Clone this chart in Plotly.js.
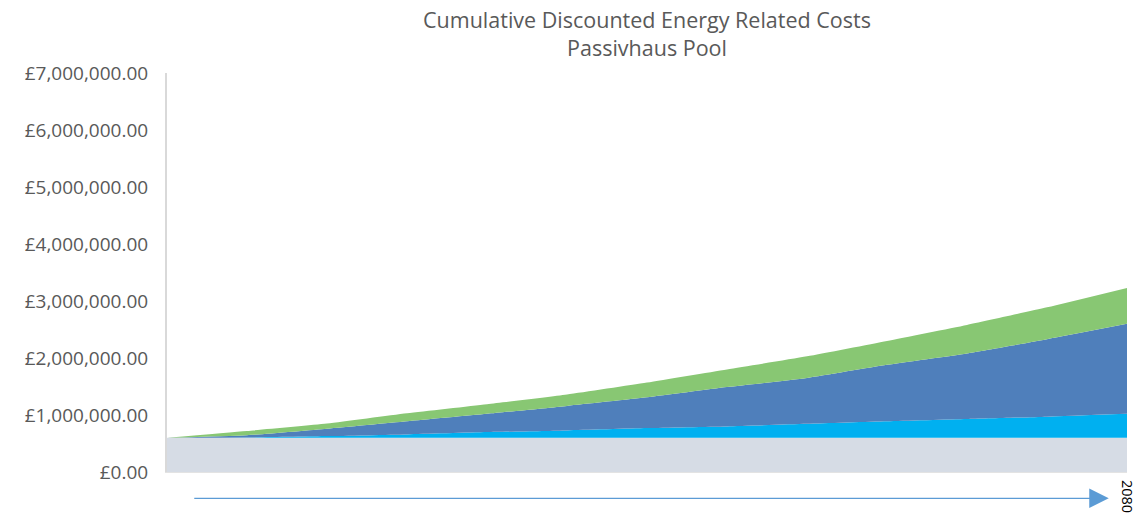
<!DOCTYPE html>
<html>
<head>
<meta charset="utf-8">
<script src="https://cdn.plot.ly/plotly-3.0.1.min.js"></script>
<style>
  html, body { margin: 0; padding: 0; background: #ffffff; }
  #chart { width: 1148px; height: 516px; }
</style>
</head>
<body>
<div id="chart"></div>
<script>
// Years of the appraisal period (one point every five years)
const years = [2020, 2025, 2030, 2035, 2040, 2045, 2050, 2055, 2060, 2065, 2070, 2075, 2080];

// Stacked cost components, in pounds (each layer sits on the one below)
const baseCost        = [600000, 600000, 600000, 600000, 600000, 600000, 600000, 600000, 600000, 600000, 600000, 600000, 600000];
const lightBlueCost   = [0, 5000, 30000, 60000, 100000, 130000, 170000, 200000, 245000, 290000, 330000, 370000, 420000];
const darkBlueCost    = [0, 40000, 130000, 230000, 320000, 430000, 540000, 690000, 805000, 990000, 1150000, 1360000, 1580000];
const greenCost       = [0, 75000, 90000, 140000, 170000, 200000, 260000, 310000, 380000, 420000, 500000, 560000, 630000];

// Axis ticks
const yTickValues = [0, 1000000, 2000000, 3000000, 4000000, 5000000, 6000000, 7000000];
const yTickLabels = yTickValues.map(v =>
  "\u00a3" + v.toLocaleString("en-GB", { minimumFractionDigits: 2, maximumFractionDigits: 2 }));
const xTickValues = [2080];
const xTickLabels = ["2080"];

const layers = [
  { name: "Base", values: baseCost, color: "#d6dce5" },
  { name: "Component A", values: lightBlueCost, color: "#00b0f0" },
  { name: "Component B", values: darkBlueCost, color: "#4f7fbb" },
  { name: "Component C", values: greenCost, color: "#88c773" }
];

const traces = layers.map(l => ({
  type: "scatter",
  mode: "lines",
  x: years,
  y: l.values,
  name: l.name,
  stackgroup: "costs",
  line: { width: 0, color: l.color, shape: "spline", smoothing: 0.5 },
  fillcolor: l.color,
  hoverinfo: "skip"
}));

const fontFamily = "Open Sans, Noto Sans, sans-serif";

const layout = {
  width: 1148,
  height: 516,
  margin: { l: 167, r: 21, t: 73, b: 43.5, pad: 0 },
  paper_bgcolor: "#ffffff",
  plot_bgcolor: "#ffffff",
  showlegend: false,
  title: {
    text: "Cumulative Discounted Energy Related Costs<br>Passivhaus Pool",
    font: { family: fontFamily, size: 21.5, color: "#595959" },
    x: 0.5,
    xref: "paper",
    y: 0.945,
    yref: "container",
    yanchor: "top"
  },
  xaxis: {
    range: [2020, 2080],
    tickmode: "array",
    tickvals: xTickValues,
    ticktext: xTickLabels,
    tickangle: 90,
    ticks: "",
    ticklabelstandoff: 4,
    showgrid: false,
    zeroline: false,
    showline: true,
    linecolor: "#e3e3e3",
    linewidth: 1,
    tickfont: { family: fontFamily, size: 14.5, color: "#000000" },
    fixedrange: true
  },
  yaxis: {
    range: [0, 7000000],
    tickmode: "array",
    tickvals: yTickValues,
    ticktext: yTickLabels,
    ticks: "",
    ticklabelstandoff: 13,
    showgrid: false,
    zeroline: false,
    showline: true,
    linecolor: "#d9d9d9",
    linewidth: 2,
    tickfont: { family: fontFamily, size: 19, color: "#595959" },
    fixedrange: true
  },
  annotations: [
    {
      xref: "paper",
      yref: "paper",
      x: 0.981,
      y: -0.066,
      axref: "pixel",
      ayref: "pixel",
      ax: -916,
      ay: 0,
      text: "",
      showarrow: true,
      arrowhead: 2,
      arrowsize: 3,
      arrowwidth: 1.3,
      arrowcolor: "#5b9bd5"
    }
  ]
};

Plotly.newPlot("chart", traces, layout, { displayModeBar: false, staticPlot: true });
</script>
</body>
</html>
